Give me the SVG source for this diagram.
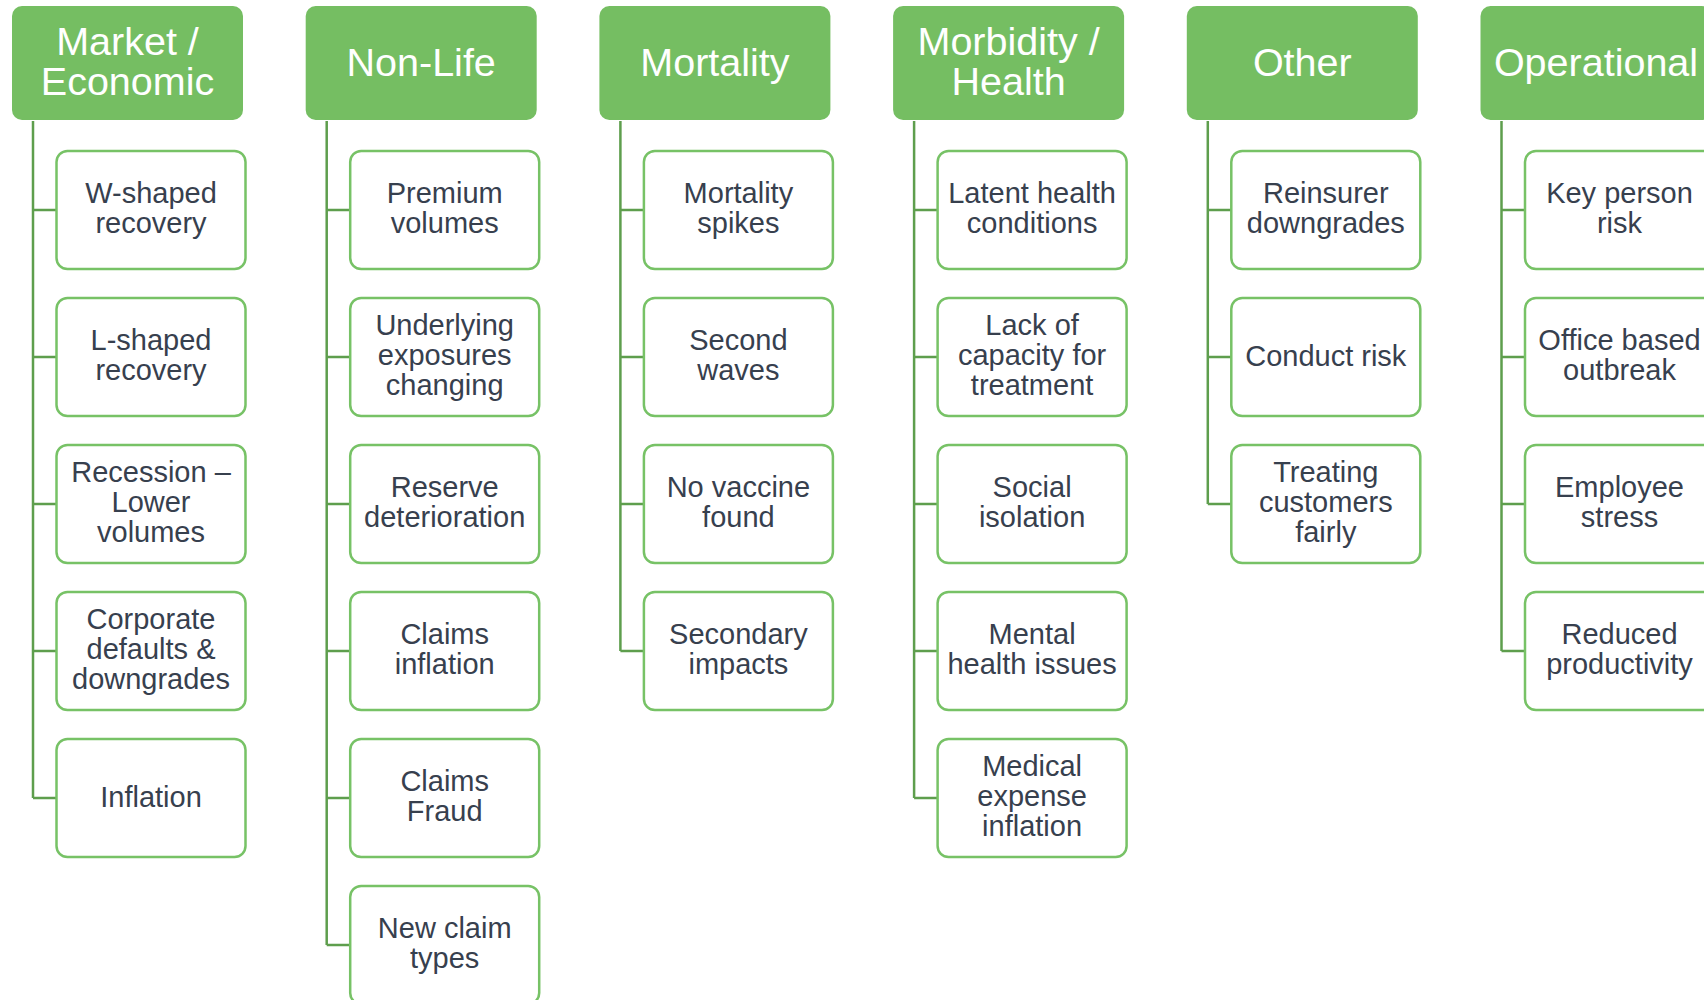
<svg xmlns="http://www.w3.org/2000/svg" width="1704" height="1000" viewBox="0 0 1704 1000">
<style>
.hdr{fill:#75BE62}
.box{fill:#FFFFFF;stroke:#77C266;stroke-width:2.5}
.con{fill:none;stroke:#5E9E4D;stroke-width:2.5}
.ht{font-family:"Liberation Sans",Arial,sans-serif;font-size:39.5px;fill:#FFFFFF;text-anchor:middle}
.bt{font-family:"Liberation Sans",Arial,sans-serif;font-size:29px;fill:#37404E;text-anchor:middle}
</style>
<rect width="1704" height="1000" fill="#FFFFFF"/>
<g id="connectors">
<path class="con" d="M33,121V798M33,210H56M33,357H56M33,504H56M33,651H56M33,798H56"/>
<path class="con" d="M326.7,121V945M326.7,210H350M326.7,357H350M326.7,504H350M326.7,651H350M326.7,798H350M326.7,945H350"/>
<path class="con" d="M620.4,121V651M620.4,210H644M620.4,357H644M620.4,504H644M620.4,651H644"/>
<path class="con" d="M914.1,121V798M914.1,210H938M914.1,357H938M914.1,504H938M914.1,651H938M914.1,798H938"/>
<path class="con" d="M1207.8,121V504M1207.8,210H1231M1207.8,357H1231M1207.8,504H1231"/>
<path class="con" d="M1501.5,121V651M1501.5,210H1525M1501.5,357H1525M1501.5,504H1525M1501.5,651H1525"/>
</g>
<!-- Column 1 -->
<g id="h-market"><rect class="hdr" x="12" y="6" width="231" height="114" rx="10"/><text class="ht" x="127.5" y="55">Market /</text><text class="ht" x="127.5" y="95">Economic</text></g>
<g id="n-wshaped"><rect class="box" x="56.5" y="151" width="189" height="118" rx="11"/><text class="bt" x="151" y="203">W-shaped</text><text class="bt" x="151" y="233">recovery</text></g>
<g id="n-lshaped"><rect class="box" x="56.5" y="298" width="189" height="118" rx="11"/><text class="bt" x="151" y="350">L-shaped</text><text class="bt" x="151" y="380">recovery</text></g>
<g id="n-recession"><rect class="box" x="56.5" y="445" width="189" height="118" rx="11"/><text class="bt" x="151" y="482">Recession –</text><text class="bt" x="151" y="512">Lower</text><text class="bt" x="151" y="542">volumes</text></g>
<g id="n-corporate"><rect class="box" x="56.5" y="592" width="189" height="118" rx="11"/><text class="bt" x="151" y="629">Corporate</text><text class="bt" x="151" y="659">defaults &amp;</text><text class="bt" x="151" y="689">downgrades</text></g>
<g id="n-inflation"><rect class="box" x="56.5" y="739" width="189" height="118" rx="11"/><text class="bt" x="151" y="807">Inflation</text></g>
<!-- Column 2 -->
<g id="h-nonlife"><rect class="hdr" x="305.7" y="6" width="231" height="114" rx="10"/><text class="ht" x="421.2" y="76">Non-Life</text></g>
<g id="n-premium"><rect class="box" x="350.2" y="151" width="189" height="118" rx="11"/><text class="bt" x="444.7" y="203">Premium</text><text class="bt" x="444.7" y="233">volumes</text></g>
<g id="n-underlying"><rect class="box" x="350.2" y="298" width="189" height="118" rx="11"/><text class="bt" x="444.7" y="335">Underlying</text><text class="bt" x="444.7" y="365">exposures</text><text class="bt" x="444.7" y="395">changing</text></g>
<g id="n-reserve"><rect class="box" x="350.2" y="445" width="189" height="118" rx="11"/><text class="bt" x="444.7" y="497">Reserve</text><text class="bt" x="444.7" y="527">deterioration</text></g>
<g id="n-claimsinfl"><rect class="box" x="350.2" y="592" width="189" height="118" rx="11"/><text class="bt" x="444.7" y="644">Claims</text><text class="bt" x="444.7" y="674">inflation</text></g>
<g id="n-fraud"><rect class="box" x="350.2" y="739" width="189" height="118" rx="11"/><text class="bt" x="444.7" y="791">Claims</text><text class="bt" x="444.7" y="821">Fraud</text></g>
<g id="n-newclaim"><rect class="box" x="350.2" y="886" width="189" height="118" rx="11"/><text class="bt" x="444.7" y="938">New claim</text><text class="bt" x="444.7" y="968">types</text></g>
<!-- Column 3 -->
<g id="h-mortality"><rect class="hdr" x="599.4" y="6" width="231" height="114" rx="10"/><text class="ht" x="714.9" y="76">Mortality</text></g>
<g id="n-spikes"><rect class="box" x="643.9" y="151" width="189" height="118" rx="11"/><text class="bt" x="738.4" y="203">Mortality</text><text class="bt" x="738.4" y="233">spikes</text></g>
<g id="n-waves"><rect class="box" x="643.9" y="298" width="189" height="118" rx="11"/><text class="bt" x="738.4" y="350">Second</text><text class="bt" x="738.4" y="380">waves</text></g>
<g id="n-vaccine"><rect class="box" x="643.9" y="445" width="189" height="118" rx="11"/><text class="bt" x="738.4" y="497">No vaccine</text><text class="bt" x="738.4" y="527">found</text></g>
<g id="n-secondary"><rect class="box" x="643.9" y="592" width="189" height="118" rx="11"/><text class="bt" x="738.4" y="644">Secondary</text><text class="bt" x="738.4" y="674">impacts</text></g>
<!-- Column 4 -->
<g id="h-morbidity"><rect class="hdr" x="893.1" y="6" width="231" height="114" rx="10"/><text class="ht" x="1008.6" y="55">Morbidity /</text><text class="ht" x="1008.6" y="95">Health</text></g>
<g id="n-latent"><rect class="box" x="937.6" y="151" width="189" height="118" rx="11"/><text class="bt" x="1032.1" y="203">Latent health</text><text class="bt" x="1032.1" y="233">conditions</text></g>
<g id="n-capacity"><rect class="box" x="937.6" y="298" width="189" height="118" rx="11"/><text class="bt" x="1032.1" y="335">Lack of</text><text class="bt" x="1032.1" y="365">capacity for</text><text class="bt" x="1032.1" y="395">treatment</text></g>
<g id="n-social"><rect class="box" x="937.6" y="445" width="189" height="118" rx="11"/><text class="bt" x="1032.1" y="497">Social</text><text class="bt" x="1032.1" y="527">isolation</text></g>
<g id="n-mental"><rect class="box" x="937.6" y="592" width="189" height="118" rx="11"/><text class="bt" x="1032.1" y="644">Mental</text><text class="bt" x="1032.1" y="674">health issues</text></g>
<g id="n-medical"><rect class="box" x="937.6" y="739" width="189" height="118" rx="11"/><text class="bt" x="1032.1" y="776">Medical</text><text class="bt" x="1032.1" y="806">expense</text><text class="bt" x="1032.1" y="836">inflation</text></g>
<!-- Column 5 -->
<g id="h-other"><rect class="hdr" x="1186.8" y="6" width="231" height="114" rx="10"/><text class="ht" x="1302.3" y="76">Other</text></g>
<g id="n-reinsurer"><rect class="box" x="1231.3" y="151" width="189" height="118" rx="11"/><text class="bt" x="1325.8" y="203">Reinsurer</text><text class="bt" x="1325.8" y="233">downgrades</text></g>
<g id="n-conduct"><rect class="box" x="1231.3" y="298" width="189" height="118" rx="11"/><text class="bt" x="1325.8" y="366">Conduct risk</text></g>
<g id="n-treating"><rect class="box" x="1231.3" y="445" width="189" height="118" rx="11"/><text class="bt" x="1325.8" y="482">Treating</text><text class="bt" x="1325.8" y="512">customers</text><text class="bt" x="1325.8" y="542">fairly</text></g>
<!-- Column 6 -->
<g id="h-operational"><rect class="hdr" x="1480.5" y="6" width="231" height="114" rx="10"/><text class="ht" x="1596" y="76">Operational</text></g>
<g id="n-keyperson"><rect class="box" x="1525" y="151" width="189" height="118" rx="11"/><text class="bt" x="1619.5" y="203">Key person</text><text class="bt" x="1619.5" y="233">risk</text></g>
<g id="n-office"><rect class="box" x="1525" y="298" width="189" height="118" rx="11"/><text class="bt" x="1619.5" y="350">Office based</text><text class="bt" x="1619.5" y="380">outbreak</text></g>
<g id="n-employee"><rect class="box" x="1525" y="445" width="189" height="118" rx="11"/><text class="bt" x="1619.5" y="497">Employee</text><text class="bt" x="1619.5" y="527">stress</text></g>
<g id="n-reduced"><rect class="box" x="1525" y="592" width="189" height="118" rx="11"/><text class="bt" x="1619.5" y="644">Reduced</text><text class="bt" x="1619.5" y="674">productivity</text></g>
</svg>
